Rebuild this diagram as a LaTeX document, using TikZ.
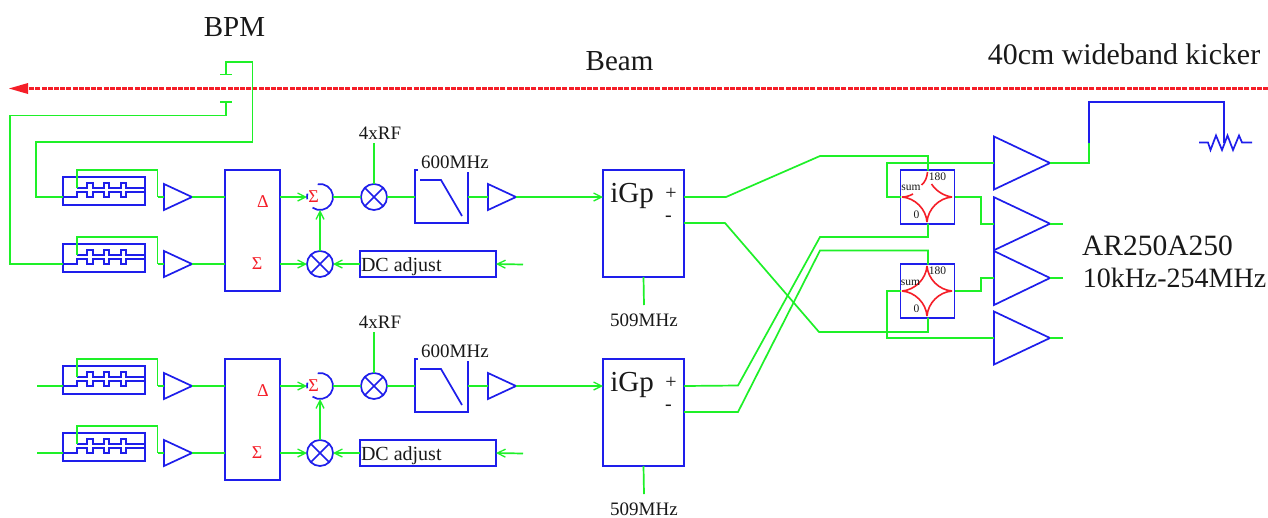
\documentclass[tikz,border=0pt]{standalone}
\usepackage{fontspec}
\setmainfont{Liberation Serif}
\usetikzlibrary{arrows.meta}
\definecolor{wire}{RGB}{30,240,40}
\definecolor{blk}{RGB}{30,30,235}
\definecolor{rd}{RGB}{245,30,40}
\definecolor{ink}{RGB}{25,25,25}
\tikzset{
  x=1pt,y=-1pt,
  gw/.style={draw=wire,line width=1.7pt,line join=miter},
  gwa/.style={gw,-{Straight Barb[length=8pt,width=8pt,line width=1.3pt]}},
  bl/.style={draw=blk,line width=1.7pt,line join=miter},
  rr/.style={draw=rd,line width=1.6pt},
  bx/.style={draw=blk,line width=1.7pt,inner sep=0pt,outer sep=0pt,rectangle},
  circ/.style={draw=blk,line width=1.7pt,circle,minimum size=26pt,inner sep=0pt,outer sep=0pt},
  open/.style={circle,minimum size=26pt,inner sep=0pt,outer sep=0pt},
  lab/.style={text=ink,inner sep=0pt,outer sep=0pt},
  l18/.style={lab,font=\fontsize{19}{20}\selectfont},
  l29/.style={lab,font=\fontsize{29}{31}\selectfont},
  sym/.style={text=rd,inner sep=0pt,font=\fontsize{18}{20}\selectfont},
  tiny/.style={lab,font=\fontsize{11.5}{12}\selectfont},
}
% amplifier: name, left x, mid y, width, half height
\newcommand{\Amp}[5]{%
  \draw[bl] (#2,#3-#5) -- (#2+#4,#3) -- (#2,#3+#5) -- cycle;
  \coordinate (#1-in) at (#2,#3);
  \coordinate (#1-out) at (#2+#4,#3);
}
% comb filter: name, y of its input line
\newcommand{\Filt}[2]{%
  \begin{scope}[shift={(0,#2)}]
    \node[bx,minimum width=82pt,minimum height=28pt] (#1) at (104,-6) {};
    \coordinate (#1-in) at (63,0);
    \coordinate (#1-tap) at (77,-9);
    \coordinate (#1-out) at (157.5,0);
    \draw[bl] (77,-9) -- (87,-9) -- (87,-14) -- (93,-14) -- (93,-9) -- (104,-9) -- (104,-14) -- (109,-14) -- (109,-9) -- (121,-9) -- (121,-14) -- (126,-14) -- (126,-9) -- (145,-9);
    \draw[bl] (63,0) -- (77,0) -- (77,-5) -- (87,-5) -- (87,0) -- (93,0) -- (93,-5) -- (104,-5) -- (104,0) -- (109,0) -- (109,-5) -- (121,-5) -- (121,0) -- (126,0) -- (126,-5) -- (145,-5);
    \draw[gw] (#1-tap) |- (157.5,-27) -- (#1-out);
  \end{scope}
}
% one complete receiver channel
\newcommand{\Chan}[2]{%
  \begin{scope}[shift={(0,#2)}]
    \Filt{#1-fa}{197}
    \Filt{#1-fb}{264}
    \Amp{#1-aa}{164}{197}{28}{13}
    \Amp{#1-ab}{164}{264}{28}{13}
    \draw[gw] (#1-fa-out) -- (#1-aa-in);
    \draw[gw] (#1-fb-out) -- (#1-ab-in);
    \node[bx,minimum width=55pt,minimum height=121pt] (#1-hyb) at (252.5,230.5) {};
    \coordinate (#1-hia) at (225,197);
    \coordinate (#1-hib) at (225,264);
    \coordinate (#1-hoa) at (280,197);
    \coordinate (#1-hob) at (280,264);
    \draw[gw] (#1-aa-out) -- (#1-hia);
    \draw[gw] (#1-ab-out) -- (#1-hib);
    \node[sym] (#1-d) at (263,202) {Δ};
    \node[sym] (#1-s) at (257,264) {Σ};
    % summing junction
    \node[open] (#1-sum) at (320,197) {};
    \draw[bl] (#1-sum.100) arc[start angle=100,end angle=-125,radius=13pt];
    \draw[bl] (#1-sum.165) arc[start angle=165,end angle=190,radius=13pt];
    \node[sym] (#1-sl) at (313.5,197) {Σ};
    \node[circ] (#1-m1) at (374,197) {};
    \draw[bl] (#1-m1.45) -- (#1-m1.225) (#1-m1.135) -- (#1-m1.315);
    \node[circ] (#1-m2) at (320,264) {};
    \draw[bl] (#1-m2.45) -- (#1-m2.225) (#1-m2.135) -- (#1-m2.315);
    \draw[gwa] (#1-hoa) -- (#1-sum.west);
    \draw[gwa] (#1-hob) -- (#1-m2.west);
    \draw[gwa] (#1-m2.north) -- (#1-sum.south);
    \draw[gw] (#1-sum.east) -- (#1-m1.west);
    \node[l18] (#1-rf) at (380,133) {4xRF};
    \coordinate (#1-rfe) at (374,143);
    \draw[gw] (#1-rfe) -- (#1-m1.north);
    % low-pass filter
    \coordinate (#1-lpi) at (415,197);
    \coordinate (#1-lpo) at (468,197);
    \draw[bl] (418,170) -- (415,170) -- (415,223) -- (468,223) -- (468,172);
    \draw[bl] (420,180) -- (441,180) -- (462,216);
    \node[l18] (#1-lpl) at (455,162) {600MHz};
    \draw[gw] (#1-m1.east) -- (#1-lpi);
    \Amp{#1-ac}{488}{197}{28}{13}
    \draw[gw] (#1-lpo) -- (#1-ac-in);
    % DC adjust
    \node[bx,minimum width=136pt,minimum height=26pt] (#1-dc) at (428,264) {};
    \node[lab,anchor=west,font=\fontsize{20}{22}\selectfont] (#1-dct) at (361,267) {DC adjust};
    \draw[gwa] (#1-dc.west) -- (#1-m2.east);
    \coordinate (#1-dci) at (523,264.5);
    \draw[gwa] (#1-dci) -- (#1-dc.east);
    % iGp
    \node[bx,minimum width=81pt,minimum height=107pt] (#1-igp) at (643.5,223.5) {};
    \coordinate (#1-igi) at (603,197);
    \coordinate (#1-pl) at (684,197);
    \coordinate (#1-mi) at (684,223);
    \draw[gwa] (#1-ac-out) -- (#1-igi);
    \node[lab,font=\fontsize{29}{31}\selectfont] (#1-igl) at (632,195.5) {iGp};
    \node[lab,font=\fontsize{20}{22}\selectfont] (#1-pt) at (671,193.5) {+};
    \node[lab,font=\fontsize{20}{22}\selectfont] (#1-mt) at (668.5,218.5) {-};
    \coordinate (#1-clk) at (644,305);
    \draw[gw] (#1-igp.south) -- (#1-clk);
    \node[l18] (#1-cl) at (644,320) {509MHz};
  \end{scope}
}
% 180-degree hybrid: name, centre y, 1 if the upper arcs are broken
\newcommand{\Hyb}[3]{%
  \node[bx,minimum width=54pt,minimum height=53.5pt] (#1) at (927.5,#2) {};
  \begin{scope}[shift={(927,#2)}]
    \ifnum#3=1
      \draw[rr] (0.5,-25) .. controls (0,-19) and (-2,-15) .. (-5.5,-12);
      \draw[rr] (-25,0) .. controls (-21,0) and (-18,-1) .. (-14,-3);
      \draw[rr] (25,0) .. controls (17,-1) and (9,-6) .. (4.5,-13);
    \else
      \draw[rr] (-25,0) .. controls (-12,-1) and (-1,-12) .. (0,-25);
      \draw[rr] (25,0) .. controls (12,-1) and (1,-12) .. (0,-25);
    \fi
    \draw[rr] (-25,0) .. controls (-12,1) and (-1,12) .. (0,25);
    \draw[rr] (25,0) .. controls (12,1) and (1,12) .. (0,25);
  \end{scope}
  \coordinate (#1-l) at (900.5,#2);
  \coordinate (#1-r) at (954.5,#2);
  \coordinate (#1-t) at (928,#2-26.5);
  \coordinate (#1-b) at (928,#2+26.5);
}
\begin{document}
\begin{tikzpicture}
\useasboundingbox (0,0) rectangle (1268,517);
\fill[white] (0,0) rectangle (1268,517);

% labels along the top
\node[l29] (bpml) at (234.5,27) {BPM};
\node[l29] (beaml) at (619.5,61) {Beam};
\node[lab,font=\fontsize{29.9}{31}\selectfont] (kickl) at (1124,54) {40cm wideband kicker};

% channels
\Chan{a}{0}
\Chan{b}{189}

% beam
\coordinate (bs) at (1268,88.5);
\coordinate (be) at (25,88.5);
\draw[draw=rd,line width=2.8pt,dash pattern=on 5pt off 1.2pt] (bs) -- (be);
\fill[rd] (9,88.5) -- (28,83) -- (28,94) -- cycle;

% pickup plates
\coordinate (pu) at (226,74.5);
\coordinate (pd) at (226,102);
\draw[gw] (220,74.5) -- (232,74.5);
\draw[gw] (220,102) -- (232,102);
\draw[gw] (pu) -- (226,62) -- (252.5,62) -- (252.5,142) -- (36,142) |- (a-fa-in);
\draw[gw] (pd) -- (226,115.5) -- (10,115.5) |- (a-fb-in);

% lower channel inputs
\coordinate (ia) at (37,386);
\coordinate (ib) at (37,453);
\draw[gw] (ia) -- (b-fa-in);
\draw[gw] (ib) -- (b-fb-in);

% hybrids and power amplifiers
\Hyb{h1}{197}{1}
\Hyb{h2}{291}{0}
\node[tiny] (h1s) at (911,188) {sum};
\node[tiny] (h1a) at (937.5,177) {180};
\node[tiny] (h1z) at (916.5,215) {0};
\node[tiny] (h2s) at (910.5,283) {sum};
\node[tiny] (h2a) at (937.5,271) {180};
\node[tiny] (h2z) at (916.5,309) {0};

\Amp{p1}{994}{163}{56}{26.5}
\Amp{p2}{994}{223.7}{56}{26.5}
\Amp{p3}{994}{278}{56}{27}
\Amp{p4}{994}{338}{56}{26.5}

% crossing wires
\draw[gw] (a-pl) -- (726,197) -- (820,156) -| (h1-t);
\draw[gw] (a-mi) -- (725,223) -- (819,332) -| (h2-b);
\draw[gw] (b-pl) -- (738,385.5) -- (820,237) -| (h1-b);
\draw[gw] (b-mi) -- (738,412) -- (820,250.5) -| (h2-t);

% hybrid outputs
\draw[gw] (h1-l) -- (887,197) |- (p1-in);
\draw[gw] (h2-l) -- (887,291) |- (p4-in);
\draw[gw] (h1-r) -- (981,197) |- (p2-in);
\draw[gw] (h2-r) -- (981,291) |- (p3-in);

% amplifier outputs
\coordinate (o2) at (1063,223.7);
\coordinate (o3) at (1063,278);
\coordinate (o4) at (1063,338);
\draw[gw] (p2-out) -- (o2);
\draw[gw] (p3-out) -- (o3);
\draw[gw] (p4-out) -- (o4);

% kicker and load
\coordinate (kj) at (1089,143);
\coordinate (rt) at (1224,142.5);
\draw[gw] (p1-out) -| (kj);
\draw[bl] (kj) -- (1089,102) -| (rt);
\draw[bl] (1199,142.5) -- (1208,142.5) -- (1210.5,150) -- (1216,135.5) -- (1222,150) -- (1227.5,135.5) -- (1233,150) -- (1239,135.5) -- (1242,142.5) -- (1252,142.5);

\node[lab,font=\fontsize{29.5}{31}\selectfont] (ar1) at (1157.5,246) {AR250A250};
\node[lab,font=\fontsize{28}{30}\selectfont] (ar2) at (1174.5,278) {10kHz-254MHz};
\end{tikzpicture}
\end{document}
